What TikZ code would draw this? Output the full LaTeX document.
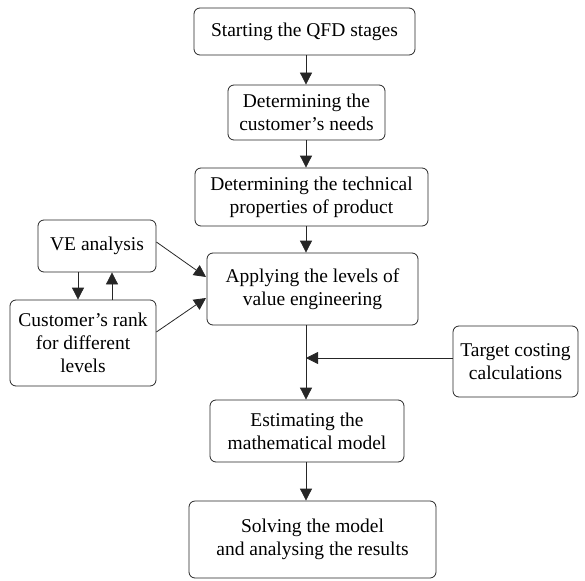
\documentclass[tikz,border=0pt]{standalone}
\usepackage{fontspec}
\setmainfont{Liberation Serif}
\usetikzlibrary{arrows.meta}
\begin{document}
\begin{tikzpicture}[x=1pt,y=-1pt,
  box/.style={draw=black!85, line width=0.8pt, rounded corners=6pt, align=center, inner sep=0pt, font=\fontsize{19.5}{23}\selectfont},
  arr/.style={draw=black!85, line width=0.8pt, -{Triangle[length=12pt,width=12pt]}}]
\useasboundingbox (0,0) rectangle (585,580);
\node[box, minimum width=221pt, minimum height=47pt] (b1) at (304.5,31.5) {Starting the QFD stages};
\node[box, minimum width=157pt, minimum height=55pt] (b2) at (306.5,112.5) {Determining the\\customer's needs};
\node[box, minimum width=233pt, minimum height=58pt] (b3) at (311.5,197) {Determining the technical\\properties of product};
\node[box, minimum width=211pt, minimum height=72pt] (b4) at (312.5,289) {Applying the levels of\\value engineering};
\node[box, minimum width=118pt, minimum height=52pt] (ve) at (97,246) {VE analysis};
\node[box, minimum width=146pt, minimum height=86pt] (cr) at (83,343) {Customer's rank\\for different\\levels};
\node[box, minimum width=125pt, minimum height=71pt] (tc) at (515.5,361.5) {Target costing\\calculations};
\node[box, minimum width=194pt, minimum height=62pt] (b5) at (307,431) {Estimating the\\mathematical model};
\node[box, minimum width=247pt, minimum height=77pt] (b6) at (312.5,539.5) {Solving the model\\and analysing the results};
\coordinate (j) at (306,358);
\coordinate (t1) at (206,277);
\coordinate (t2) at (206,298);
\draw[arr] (b1.south -| 306,0) -- (b2.north -| 306,0);
\draw[arr] (b2.south -| 306,0) -- (b3.north -| 306,0);
\draw[arr] (b3.south -| 306,0) -- (b4.north -| 306,0);
\draw[arr] (b4.south -| 306,0) -- (b5.north -| 306,0);
\draw[arr] (b5.south -| 306,0) -- (b6.north -| 306,0);
\draw[arr] (tc.west |- j) -- (j);
\draw[arr] (ve.south -| 78,0) -- (cr.north -| 78,0);
\draw[arr] (cr.north -| 112,0) -- (ve.south -| 112,0);
\draw[arr] (ve.east |- 0,242) -- (t1);
\draw[arr] (cr.east |- 0,332) -- (t2);
\end{tikzpicture}
\end{document}
